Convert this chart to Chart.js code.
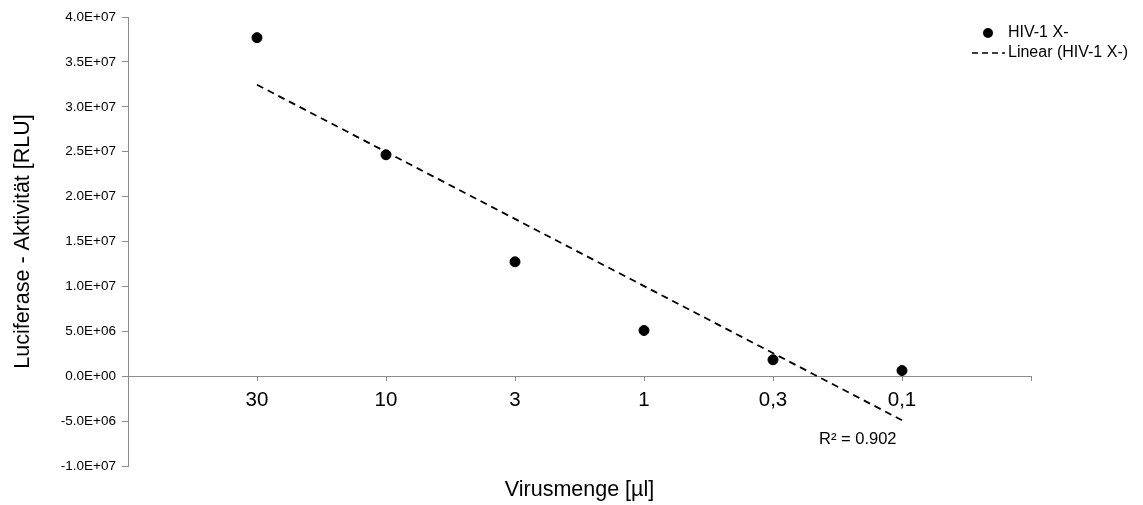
<!DOCTYPE html>
<html>
<head>
<meta charset="utf-8">
<script src="https://cdn.jsdelivr.net/npm/chart.js@4"></script>
<style>
  html, body { margin: 0; padding: 0; background: #fff; }
  #wrap { width: 1143px; height: 505px; position: relative; }
</style>
</head>
<body>
<div id="wrap"><canvas id="c"></canvas></div>
<script>
// ---- data ----
const categories = ['30', '10', '3', '1', '0,3', '0,1'];
const seriesName = 'HIV-1 X-';
const luciferase = [3.77e7, 2.466e7, 1.274e7, 5.09e6, 1.83e6, 6.3e5];
const yTickMin = -1e7;
const yTickMax = 4e7;
const yTickStep = 5e6;
const xTitle = 'Virusmenge [µl]';
const yTitle = 'Luciferase - Aktivität [RLU]';

// ---- linear trendline (least squares over category index 1..n) ----
const xs = categories.map((_, i) => i + 1);
const n = xs.length;
const mx = xs.reduce((a, b) => a + b, 0) / n;
const my = luciferase.reduce((a, b) => a + b, 0) / n;
let sxy = 0, sxx = 0, syy = 0;
for (let i = 0; i < n; i++) {
  sxy += (xs[i] - mx) * (luciferase[i] - my);
  sxx += (xs[i] - mx) ** 2;
  syy += (luciferase[i] - my) ** 2;
}
const slope = sxy / sxx;
const intercept = my - slope * mx;
const r2 = (sxy * sxy) / (sxx * syy);
const trendPts = [xs[0], xs[n - 1]].map(x => ({ x, y: intercept + slope * x }));

function sci(v) {
  if (Math.abs(v) < 1e-6) return '0.0E+00';
  const e = Math.floor(Math.log10(Math.abs(v)) + 1e-9);
  const m = v / Math.pow(10, e);
  return m.toFixed(1) + 'E' + (e < 0 ? '-' : '+') + String(Math.abs(e)).padStart(2, '0');
}

const FONT = "'Liberation Sans', Arial, sans-serif";
const AXIS = '#8c8c8c';

const overlay = {
  id: 'overlay',
  afterDraw(chart) {
    const ctx = chart.ctx;
    const xS = chart.scales.x, yS = chart.scales.y;
    ctx.save();
    ctx.fillStyle = '#000';
    ctx.textBaseline = 'middle';
    ctx.textAlign = 'left';
    // R² label near end of trendline
    ctx.font = '16.5px ' + FONT;
    const ex = xS.getPixelForValue(trendPts[1].x);
    const ey = yS.getPixelForValue(trendPts[1].y);
    ctx.fillText('R² = ' + r2.toFixed(3), ex - 83, ey + 19);
    // legend
    ctx.font = '16px ' + FONT;
    ctx.beginPath();
    ctx.arc(988, 33, 5, 0, Math.PI * 2);
    ctx.fill();
    ctx.fillText(seriesName, 1008, 33);
    ctx.strokeStyle = '#000';
    ctx.lineWidth = 1.6;
    ctx.setLineDash([6, 4]);
    ctx.beginPath();
    ctx.moveTo(972, 53);
    ctx.lineTo(1005, 53);
    ctx.stroke();
    ctx.setLineDash([]);
    ctx.fillText('Linear (' + seriesName + ')', 1008, 53);
    ctx.restore();
  }
};

new Chart(document.getElementById('c'), {
  type: 'scatter',
  data: {
    datasets: [
      {
        label: seriesName,
        data: luciferase.map((v, i) => ({ x: xs[i], y: v })),
        backgroundColor: '#000',
        borderColor: '#000',
        pointRadius: 5,
        pointHoverRadius: 5,
        order: 1
      },
      {
        label: 'Linear (' + seriesName + ')',
        data: trendPts,
        showLine: true,
        borderColor: '#000',
        borderWidth: 1.8,
        borderDash: [7, 5],
        pointRadius: 0,
        fill: false,
        order: 2
      }
    ]
  },
  options: {
    responsive: true,
    maintainAspectRatio: false,
    animation: false,
    layout: { padding: { left: 0, top: 17, right: 112, bottom: 0 } },
    plugins: { legend: { display: false }, tooltip: { enabled: false } },
    scales: {
      x: {
        type: 'linear',
        position: { y: 0 },
        min: 0,
        max: categories.length + 1,
        grid: { display: true, drawOnChartArea: false, drawTicks: true, tickLength: 4, color: AXIS },
        border: { display: true, color: AXIS, width: 1 },
        ticks: {
          stepSize: 1,
          autoSkip: false,
          maxRotation: 0,
          padding: 8,
          color: '#000',
          font: { family: FONT, size: 20.5 },
          callback: (v) => (v >= 1 && v <= categories.length ? categories[v - 1] : '')
        },
        title: { display: false }
      },
      xt: {
        type: 'linear',
        position: 'bottom',
        display: true,
        grid: { display: false },
        border: { display: false },
        ticks: { display: false },
        title: { display: true, text: xTitle, color: '#000', font: { family: FONT, size: 21.5 }, padding: { top: 0, bottom: 2 } },
        afterFit(scale) { scale.height = 39; }
      },
      y: {
        type: 'linear',
        position: 'left',
        min: yTickMin,
        max: yTickMax,
        grid: { display: true, drawOnChartArea: false, drawTicks: true, tickLength: 6, color: AXIS },
        border: { display: true, color: AXIS, width: 1 },
        ticks: {
          stepSize: yTickStep,
          padding: 6,
          color: '#000',
          font: { family: FONT, size: 13.5 },
          callback: (v) => sci(v)
        },
        title: { display: true, text: yTitle, color: '#000', font: { family: FONT, size: 21.5 }, padding: { top: 10, bottom: 0 } },
        afterFit(scale) { scale.width = 128; }
      }
    }
  },
  plugins: [overlay]
});
</script>
</body>
</html>
